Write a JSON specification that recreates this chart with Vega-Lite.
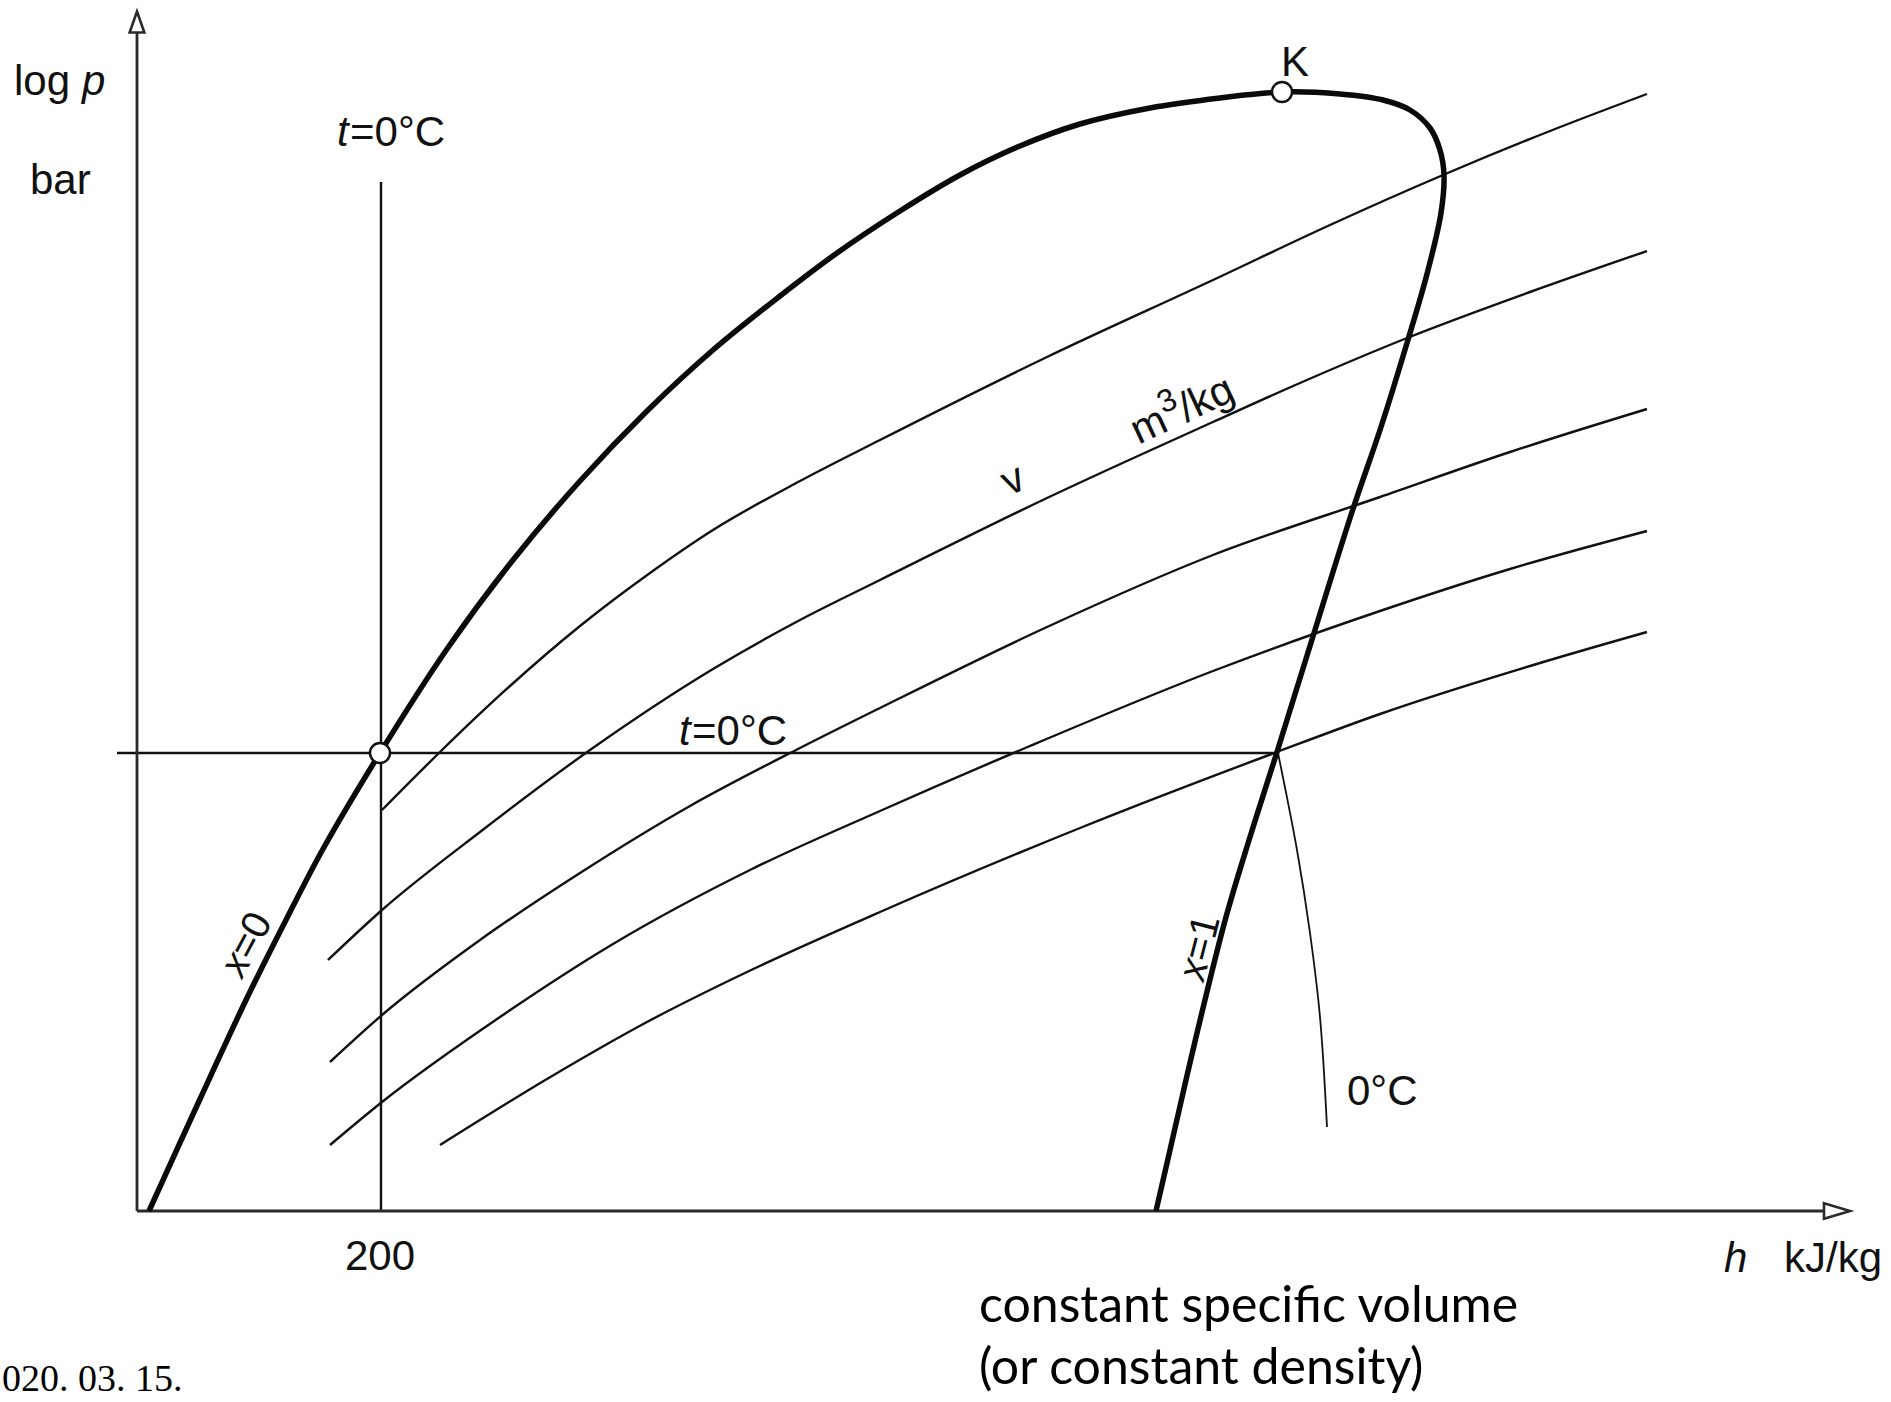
{
  "$schema": "https://vega.github.io/schema/vega-lite/v6.json",
  "width": 1891,
  "height": 1402,
  "autosize": {"type": "none"},
  "padding": 0,
  "background": "white",
  "config": {"view": {"stroke": null}},
  "encoding": {
    "x": {"field": "h", "type": "quantitative", "scale": {"domain": [0, 1891], "nice": false, "zero": false}, "axis": null},
    "y": {"field": "lp", "type": "quantitative", "scale": {"domain": [0, 1402], "nice": false, "zero": false}, "axis": null}
  },
  "layer": [
    {
      "data": {"values": [
        {"c": "A", "i": 1, "h": 382, "lp": 592}, {"c": "A", "i": 2, "h": 440, "lp": 650}, {"c": "A", "i": 3, "h": 510, "lp": 716}, {"c": "A", "i": 4, "h": 580, "lp": 776}, {"c": "A", "i": 5, "h": 650, "lp": 829}, {"c": "A", "i": 6, "h": 713, "lp": 872}, {"c": "A", "i": 7, "h": 800, "lp": 921}, {"c": "A", "i": 8, "h": 880, "lp": 962}, {"c": "A", "i": 9, "h": 1047, "lp": 1045}, {"c": "A", "i": 10, "h": 1213, "lp": 1122}, {"c": "A", "i": 11, "h": 1330, "lp": 1177}, {"c": "A", "i": 12, "h": 1443, "lp": 1227}, {"c": "A", "i": 13, "h": 1550, "lp": 1271}, {"c": "A", "i": 14, "h": 1647, "lp": 1308},
        {"c": "B", "i": 1, "h": 328, "lp": 442}, {"c": "B", "i": 2, "h": 382, "lp": 492}, {"c": "B", "i": 3, "h": 480, "lp": 570}, {"c": "B", "i": 4, "h": 590, "lp": 652}, {"c": "B", "i": 5, "h": 713, "lp": 733}, {"c": "B", "i": 6, "h": 800, "lp": 782}, {"c": "B", "i": 7, "h": 880, "lp": 822}, {"c": "B", "i": 8, "h": 1047, "lp": 904}, {"c": "B", "i": 9, "h": 1213, "lp": 980}, {"c": "B", "i": 10, "h": 1300, "lp": 1019}, {"c": "B", "i": 11, "h": 1407, "lp": 1064}, {"c": "B", "i": 12, "h": 1530, "lp": 1110}, {"c": "B", "i": 13, "h": 1647, "lp": 1151},
        {"c": "C", "i": 1, "h": 330, "lp": 340}, {"c": "C", "i": 2, "h": 382, "lp": 387}, {"c": "C", "i": 3, "h": 480, "lp": 462}, {"c": "C", "i": 4, "h": 580, "lp": 529}, {"c": "C", "i": 5, "h": 690, "lp": 596}, {"c": "C", "i": 6, "h": 800, "lp": 654}, {"c": "C", "i": 7, "h": 880, "lp": 694}, {"c": "C", "i": 8, "h": 1047, "lp": 775}, {"c": "C", "i": 9, "h": 1213, "lp": 847}, {"c": "C", "i": 10, "h": 1380, "lp": 905}, {"c": "C", "i": 11, "h": 1510, "lp": 950}, {"c": "C", "i": 12, "h": 1647, "lp": 993},
        {"c": "D", "i": 1, "h": 330, "lp": 257}, {"c": "D", "i": 2, "h": 382, "lp": 300}, {"c": "D", "i": 3, "h": 500, "lp": 385}, {"c": "D", "i": 4, "h": 613, "lp": 458}, {"c": "D", "i": 5, "h": 750, "lp": 532}, {"c": "D", "i": 6, "h": 880, "lp": 591}, {"c": "D", "i": 7, "h": 1030, "lp": 656}, {"c": "D", "i": 8, "h": 1213, "lp": 731}, {"c": "D", "i": 9, "h": 1380, "lp": 791}, {"c": "D", "i": 10, "h": 1510, "lp": 833}, {"c": "D", "i": 11, "h": 1647, "lp": 871},
        {"c": "E", "i": 1, "h": 440, "lp": 257}, {"c": "E", "i": 2, "h": 547, "lp": 323}, {"c": "E", "i": 3, "h": 647, "lp": 380}, {"c": "E", "i": 4, "h": 747, "lp": 430}, {"c": "E", "i": 5, "h": 880, "lp": 490}, {"c": "E", "i": 6, "h": 1080, "lp": 574}, {"c": "E", "i": 7, "h": 1277, "lp": 650}, {"c": "E", "i": 8, "h": 1380, "lp": 688}, {"c": "E", "i": 9, "h": 1540, "lp": 739}, {"c": "E", "i": 10, "h": 1647, "lp": 770}
      ]},
      "mark": {"type": "line", "interpolate": "monotone", "color": "#111", "strokeWidth": 2.4},
      "encoding": {"detail": {"field": "c"}, "order": {"field": "i", "type": "quantitative"}}
    },
    {
      "data": {"values": [
        {"c": "tv", "i": 1, "h": 381, "lp": 1220}, {"c": "tv", "i": 2, "h": 381, "lp": 191},
        {"c": "th", "i": 1, "h": 117, "lp": 649}, {"c": "th", "i": 2, "h": 1277, "lp": 649}
      ]},
      "mark": {"type": "line", "color": "#111", "strokeWidth": 2.4},
      "encoding": {"detail": {"field": "c"}, "order": {"field": "i", "type": "quantitative"}}
    },
    {
      "data": {"values": [
        {"c": "y", "i": 1, "h": 137, "lp": 191}, {"c": "y", "i": 2, "h": 137, "lp": 1380},
        {"c": "x", "i": 1, "h": 137, "lp": 191}, {"c": "x", "i": 2, "h": 1836, "lp": 191}
      ]},
      "mark": {"type": "line", "color": "#2a2a2a", "strokeWidth": 2.8},
      "encoding": {"detail": {"field": "c"}, "order": {"field": "i", "type": "quantitative"}}
    },
    {
      "data": {"values": [
        {"i": 1, "h": 1278, "lp": 649}, {"i": 2, "h": 1297, "lp": 552}, {"i": 3, "h": 1310, "lp": 469}, {"i": 4, "h": 1320, "lp": 385}, {"i": 5, "h": 1327, "lp": 275}
      ]},
      "mark": {"type": "line", "interpolate": "catmull-rom", "color": "#111", "strokeWidth": 1.8},
      "encoding": {"order": {"field": "i", "type": "quantitative"}}
    },
    {
      "data": {"values": [
        {"i": 1, "h": 149, "lp": 191}, {"i": 2, "h": 200, "lp": 303}, {"i": 3, "h": 247, "lp": 404}, {"i": 4, "h": 287, "lp": 484}, {"i": 5, "h": 323, "lp": 553}, {"i": 6, "h": 380, "lp": 649}, {"i": 7, "h": 447, "lp": 753}, {"i": 8, "h": 513, "lp": 842}, {"i": 9, "h": 580, "lp": 921}, {"i": 10, "h": 647, "lp": 991}, {"i": 11, "h": 713, "lp": 1052}, {"i": 12, "h": 780, "lp": 1106}, {"i": 13, "h": 837, "lp": 1149}, {"i": 14, "h": 900, "lp": 1191}, {"i": 15, "h": 960, "lp": 1227}, {"i": 16, "h": 1020, "lp": 1256}, {"i": 17, "h": 1080, "lp": 1278}, {"i": 18, "h": 1150, "lp": 1294}, {"i": 19, "h": 1220, "lp": 1304}, {"i": 20, "h": 1282, "lp": 1310}, {"i": 21, "h": 1340, "lp": 1308}, {"i": 22, "h": 1383, "lp": 1302}, {"i": 23, "h": 1410, "lp": 1292}, {"i": 24, "h": 1430, "lp": 1274}, {"i": 25, "h": 1440, "lp": 1252}, {"i": 26, "h": 1444, "lp": 1227}, {"i": 27, "h": 1441, "lp": 1189}, {"i": 28, "h": 1427, "lp": 1128}, {"i": 29, "h": 1407, "lp": 1059}, {"i": 30, "h": 1381, "lp": 975}, {"i": 31, "h": 1352, "lp": 890}, {"i": 32, "h": 1310, "lp": 756}, {"i": 33, "h": 1277, "lp": 650}, {"i": 34, "h": 1250, "lp": 565}, {"i": 35, "h": 1226, "lp": 485}, {"i": 36, "h": 1197, "lp": 369}, {"i": 37, "h": 1170, "lp": 252}, {"i": 38, "h": 1156, "lp": 191}
      ]},
      "mark": {"type": "line", "interpolate": "catmull-rom", "color": "#0a0a0a", "strokeWidth": 5.5},
      "encoding": {"order": {"field": "i", "type": "quantitative"}}
    },
    {
      "data": {"values": [{"h": 380, "lp": 649}, {"h": 1282, "lp": 1310}]},
      "mark": {"type": "point", "shape": "circle", "size": 400, "filled": true, "fill": "white", "stroke": "#111", "strokeWidth": 2.4, "opacity": 1}
    },
    {
      "data": {"values": [{"h": 137, "lp": 1380}]},
      "mark": {"type": "point", "shape": "M0,-1L0.7,1L-0.7,1Z", "size": 441, "filled": true, "fill": "white", "stroke": "#2a2a2a", "strokeWidth": 2.6, "opacity": 1}
    },
    {
      "data": {"values": [{"h": 1837, "lp": 191}]},
      "mark": {"type": "point", "shape": "M1,0L-1,0.6L-1,-0.6Z", "size": 676, "filled": true, "fill": "white", "stroke": "#2a2a2a", "strokeWidth": 2.6, "opacity": 1}
    },
    {
      "data": {"values": [
        {"t": "log", "h": 14, "lp": 1307}, {"t": "bar", "h": 30, "lp": 1208}, {"t": "=0°C", "h": 350, "lp": 1256}, {"t": "=0°C", "h": 692, "lp": 657},
        {"t": "K", "h": 1281, "lp": 1326}, {"t": "0°C", "h": 1347, "lp": 297}, {"t": "kJ/kg", "h": 1784, "lp": 130}, {"t": "200", "h": 345, "lp": 132}
      ]},
      "mark": {"type": "text", "font": "Liberation Sans", "fontSize": 42, "align": "left", "baseline": "alphabetic", "color": "#111"},
      "encoding": {"text": {"field": "t"}}
    },
    {
      "data": {"values": [
        {"t": "p", "h": 82, "lp": 1307}, {"t": "t", "h": 337, "lp": 1256}, {"t": "t", "h": 679, "lp": 657}, {"t": "h", "h": 1724, "lp": 130}
      ]},
      "mark": {"type": "text", "font": "Liberation Sans", "fontSize": 42, "fontStyle": "italic", "align": "left", "baseline": "alphabetic", "color": "#111"},
      "encoding": {"text": {"field": "t"}}
    },
    {
      "data": {"values": [
        {"t": "constant specific volume", "h": 979, "lp": 80}, {"t": "(or constant density)", "h": 979, "lp": 18}
      ]},
      "mark": {"type": "text", "font": "Lato", "fontSize": 50, "align": "left", "baseline": "alphabetic", "color": "#000"},
      "encoding": {"text": {"field": "t"}}
    },
    {
      "data": {"values": [{"t": "020. 03. 15.", "h": 2, "lp": 11}]},
      "mark": {"type": "text", "font": "Liberation Serif", "fontSize": 38, "align": "left", "baseline": "alphabetic", "color": "#000"},
      "encoding": {"text": {"field": "t"}}
    },
    {
      "data": {"values": [{"t": "x", "h": 241, "lp": 446}]},
      "mark": {"type": "text", "font": "Liberation Sans", "fontSize": 40, "fontStyle": "italic", "align": "right", "baseline": "middle", "angle": 298, "color": "#111"},
      "encoding": {"text": {"field": "t"}}
    },
    {
      "data": {"values": [{"t": "=0", "h": 241, "lp": 446}]},
      "mark": {"type": "text", "font": "Liberation Sans", "fontSize": 40, "align": "left", "baseline": "middle", "angle": 298, "color": "#111"},
      "encoding": {"text": {"field": "t"}}
    },
    {
      "data": {"values": [{"t": "x", "h": 1197, "lp": 442}]},
      "mark": {"type": "text", "font": "Liberation Sans", "fontSize": 40, "fontStyle": "italic", "align": "right", "baseline": "middle", "angle": 284.5, "color": "#111"},
      "encoding": {"text": {"field": "t"}}
    },
    {
      "data": {"values": [{"t": "=1", "h": 1197, "lp": 442}]},
      "mark": {"type": "text", "font": "Liberation Sans", "fontSize": 40, "align": "left", "baseline": "middle", "angle": 284.5, "color": "#111"},
      "encoding": {"text": {"field": "t"}}
    },
    {
      "data": {"values": [{"t": "v", "h": 1013, "lp": 922}]},
      "mark": {"type": "text", "font": "Liberation Sans", "fontSize": 42, "align": "center", "baseline": "middle", "angle": 335, "color": "#111"},
      "encoding": {"text": {"field": "t"}}
    },
    {
      "data": {"values": [{"t": "m", "h": 1133, "lp": 969}, {"t": "/kg", "h": 1181, "lp": 991}]},
      "mark": {"type": "text", "font": "Liberation Sans", "fontSize": 42, "align": "left", "baseline": "middle", "angle": 335, "color": "#111"},
      "encoding": {"text": {"field": "t"}}
    },
    {
      "data": {"values": [{"t": "3", "h": 1159, "lp": 997}]},
      "mark": {"type": "text", "font": "Liberation Sans", "fontSize": 32, "align": "left", "baseline": "middle", "angle": 335, "color": "#111"},
      "encoding": {"text": {"field": "t"}}
    }
  ]
}
